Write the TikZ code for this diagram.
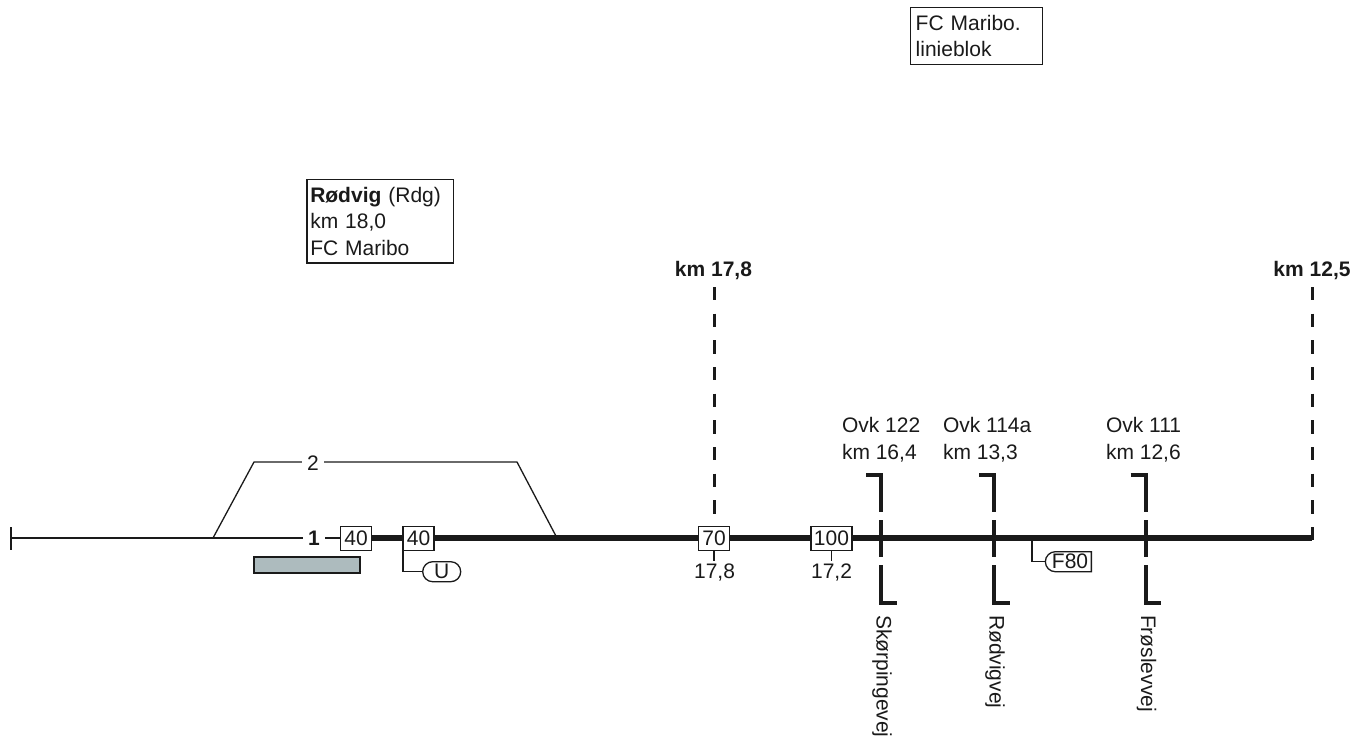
\documentclass[tikz,border=0pt]{standalone}
\usepackage{fontspec}
\setmainfont{Liberation Sans}
\usetikzlibrary{shapes.misc,calc}
\definecolor{ink}{HTML}{1A1A1A}
\definecolor{platform}{HTML}{ADBBBE}
\tikzset{
  x=1pt,y=-1pt,
  every node/.style={font=\fontsize{21}{26.5}\selectfont,text=ink,inner sep=0pt,outer sep=0pt},
  thinline/.style={draw=ink,line width=1.3pt},
  thickline/.style={draw=ink,line width=5.5pt},
  xing/.style={draw=ink,line width=4pt},
  dashline/.style={draw=ink,line width=3pt,dash pattern=on 13.3pt off 13.37pt},
  speedbox/.style={draw=ink,fill=white,line width=1.3pt,minimum height=23.5pt,minimum width=31pt},
  infobox/.style={draw=ink,fill=white,line width=1.3pt,anchor=north west,align=left},
  tag/.style={draw=ink,fill=white,line width=1.3pt,rounded rectangle,minimum height=20pt,inner xsep=0pt},
  road/.style={rotate=-90,anchor=west},
  tracklabel/.style={fill=white,inner xsep=5pt,inner ysep=1pt},
}
\begin{document}
\begin{tikzpicture}
\useasboundingbox (0,0) rectangle (1359,742);
% info boxes
\node[infobox,minimum width=131.5pt,minimum height=57pt,text width=121.5pt,inner xsep=5pt] (fc) at (910.7,7.3) {FC Maribo.\\linieblok};
\node[infobox,minimum width=146.5pt,minimum height=83.5pt,text width=140pt,inner xsep=3pt] (rdg) at (307,179.5) {\textbf{Rødvig} (Rdg)\\km 18,0\\FC Maribo};
% track coordinates
\coordinate (tickT) at (11,527);
\coordinate (tickB) at (11,550);
\coordinate (start) at (11,538);
\coordinate (swL) at (213,538);
\coordinate (upL) at (254,462);
\coordinate (upR) at (517,462);
\coordinate (swR) at (557,538);
\coordinate (end) at (1312,538);
\draw[thinline] (tickT) -- (tickB);
\draw[thinline] (start) -- (340,538);
\draw[thinline] (swL) -- (upL) -- (upR) -- (swR);
\draw[thickline] (371,538) -- (end);
\node[tracklabel] (t2) at (313,463) {2};
\node[tracklabel,font=\fontsize{21}{26.5}\selectfont\bfseries] (t1) at (314,538) {1};
% platform
\node[draw=ink,fill=platform,line width=1.3pt,minimum width=106pt,minimum height=16pt,anchor=north west] (plat) at (254,557) {};
% speed boards
\node[speedbox] (s40a) at (356,538.5) {40};
\node[speedbox] (s40b) at (418.5,538.5) {40};
\node[speedbox] (s70) at (714,538.5) {70};
\node[speedbox,minimum width=41pt] (s100) at (831.5,538.5) {100};
% tags
\node[tag,minimum width=38pt] (u) at (441.7,571.7) {U};
\draw[thinline] (s40b.south west) -- (s40b.south west |- u.west) -- (u.west);
\node[tag,rounded rectangle east arc=none,minimum width=46pt] (f80) at (1070,561.7) {F80};
\coordinate (f80top) at (1032,540);
\draw[thinline] (f80top) -- (f80top |- f80.west) -- (f80.west);
% km marks
\node (k178) at (713.5,271) {\textbf{km 17,8}};
\node (k125) at (1312,271) {\textbf{km 12,5}};
\coordinate (d1t) at (714.5,287);
\coordinate (d1b) at (714.5,514);
\coordinate (d2t) at (1312,287);
\coordinate (d2b) at (1312,540.5);
\draw[dashline] (d1t) -- (d1b);
\draw[dashline] (d2t) -- (d2b);
% boards
\node (p170) at (714.5,573) {17,8};
\node (p172) at (831.5,573) {17,2};
\draw[thinline,shorten >=3pt] (s70.south) -- (s70.south |- p170.north);
\draw[thinline,shorten >=3pt] (s100.south) -- (s100.south |- p172.north);
% level crossings
\foreach \n/\x/\lx/\ov/\km/\ox in {a/881/Skørpingevej/Ovk 122/km 16{,}4/842,
  b/994/Rødvigvej/Ovk 114a/km 13{,}3/943,
  c/1145.5/Frøslevvej/Ovk 111/km 12{,}6/1106}{
  \node[align=left,anchor=west] (ov\n) at (\ox,439.5) {\ov\\\km};
  \node[road] (rd\n) at (\x+1,615) {\lx};
  \coordinate (tl\n) at (\x-15,475);
  \coordinate (tc\n) at (\x,475);
  \coordinate (m1\n) at (\x,512);
  \coordinate (m2\n) at (\x,520);
  \coordinate (m3\n) at (\x,557);
  \coordinate (m4\n) at (\x,565);
  \coordinate (bc\n) at (\x,603);
  \coordinate (br\n) at (\x+15.5,603);
  \draw[xing] (tl\n) -- (tc\n) -- (m1\n);
  \draw[xing] (m2\n) -- (m3\n);
  \draw[xing] (m4\n) -- (bc\n) -- (br\n);
}
\end{tikzpicture}
\end{document}
